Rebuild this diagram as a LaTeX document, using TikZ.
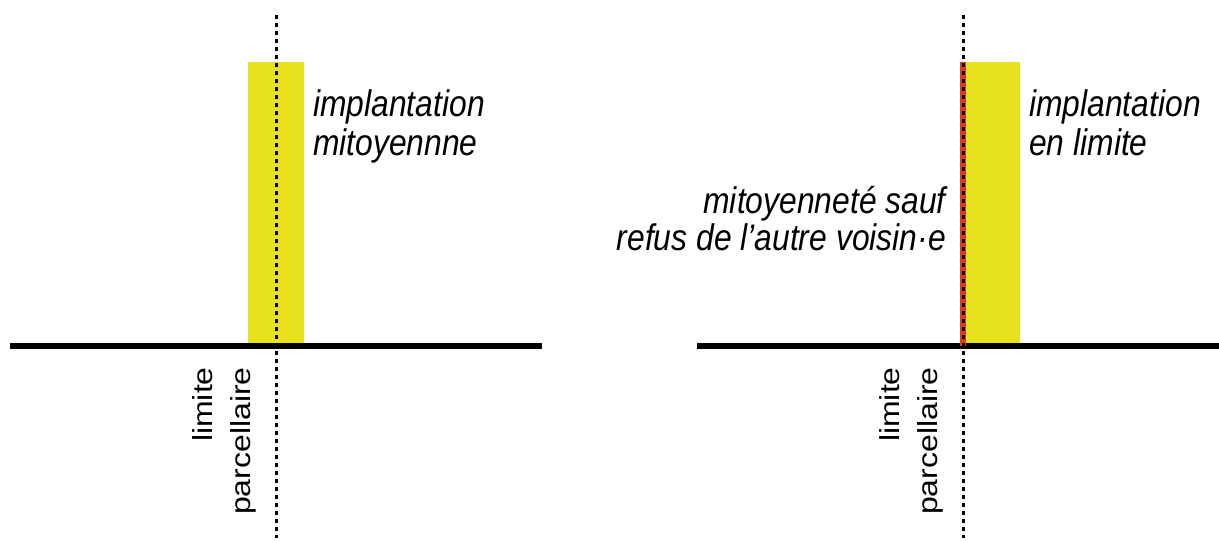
\documentclass[tikz,border=0pt]{standalone}
\usepackage{fontspec}
\setmainfont{Liberation Sans}
\usepackage{graphicx}
\definecolor{bldyellow}{RGB}{232,226,30}
\definecolor{wallred}{RGB}{222,58,26}
\newcommand{\hsq}[1]{\scalebox{0.86}[1]{#1}}
\newcommand{\vsq}[1]{\scalebox{1}[0.86]{#1}}
\begin{document}
\begin{tikzpicture}[x=1pt,y=-1pt,
  ground/.style={line width=6.5pt},
  limline/.style={line width=3pt,dash pattern=on 4pt off 4pt},
  bld/.style={fill=bldyellow,draw=none},
  lbl/.style={inner sep=0pt,font=\fontsize{37}{40}\selectfont\itshape},
  vlbl/.style={inner sep=0pt,rotate=90,anchor=base east,font=\fontsize{32}{36}\selectfont}]
\useasboundingbox (0,0) rectangle (1219,541);
% left scene
\fill[bld] (248,62) rectangle (304,346);
\draw[ground] (10,346) -- (542,346);
\coordinate (ltop) at (276,15);
\coordinate (lbot) at (276,538);
\draw[limline] (ltop) -- (lbot);
\node[lbl,anchor=base west] (l1) at (313,116) {\hsq{implantation}};
\node[lbl,anchor=base west] (l2) at (313,155) {\hsq{mitoyennne}};
\node[vlbl] (lv1) at (212,367) {\vsq{limite}};
\node[vlbl] (lv2) at (250,367) {\vsq{parcellaire}};
% right scene
\fill[bld] (963,62) rectangle (1020,346);
\draw[ground] (697,346) -- (1219,346);
\coordinate (rwt) at (963,62);
\coordinate (rwb) at (963,346);
\draw[wallred,line width=6pt] (rwt) -- (rwb);
\coordinate (rtop) at (963,15);
\coordinate (rbot) at (963,538);
\draw[limline] (rtop) -- (rbot);
\node[lbl,anchor=base west] (r1) at (1029,116) {\hsq{implantation}};
\node[lbl,anchor=base west] (r2) at (1029,155) {\hsq{en limite}};
\node[lbl,anchor=base east] (m1) at (946,213) {\hsq{mitoyenneté sauf}};
\node[lbl,anchor=base east] (m2) at (946,250) {\hsq{refus de l’autre voisin·e}};
\node[vlbl] (rv1) at (899,367) {\vsq{limite}};
\node[vlbl] (rv2) at (937,367) {\vsq{parcellaire}};
\end{tikzpicture}
\end{document}
